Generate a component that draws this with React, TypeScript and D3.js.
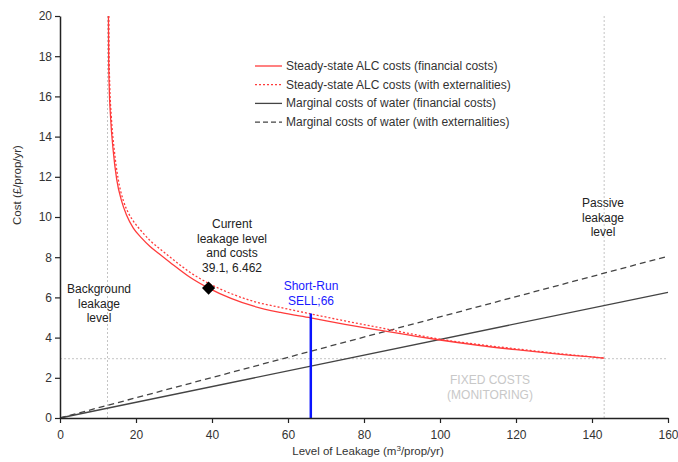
import React, { useEffect, useRef } from "react";
import * as d3 from "d3";

// leakage level (m3/prop/yr) vs steady-state ALC cost
const alcLeakage = [12.75, 12.8, 12.95, 13.3, 14.0, 14.9, 16.2, 17.5, 19.3, 21.5, 23.7, 26, 28.9, 34.2, 39.1, 45, 51, 58, 66, 75, 84, 92, 100, 110, 120, 130, 143.2];
const alcFinancial = [20, 18, 16.5, 15, 13.3, 11.9, 10.8, 10.1, 9.45, 8.95, 8.53, 8.18, 7.75, 7.0, 6.462, 5.95, 5.56, 5.25, 4.98, 4.66, 4.37, 4.12, 3.88, 3.62, 3.4, 3.2, 2.98];
const alcExtLeakage = [12.85, 12.92, 13.1, 13.5, 14.3, 15.3, 16.7, 18.0, 19.3, 21.5, 23.7, 26, 28.9, 34.2, 39.1, 45, 51, 58, 66, 75, 84, 92, 100, 110, 120, 130, 143.2];
const alcExternal = [20, 18, 16.5, 15, 13.3, 11.9, 10.8, 10.2, 9.8, 9.28, 8.83, 8.46, 8.02, 7.25, 6.7, 6.19, 5.8, 5.5, 5.18, 4.83, 4.5, 4.2, 3.92, 3.66, 3.44, 3.23, 2.98];

// marginal cost of water lines
const mcLeakage = [0, 160];
const mcFinancial = [0, 6.25];
const mcExternal = [0, 8.05];

const backgroundLeakage = 12.5;
const passiveLeakage = 143.2;
const fixedCosts = 2.95;
const currentPoint = { leakage: 39.1, cost: 6.462 };
const sell = { leakage: 66, cost: 5.2 };

const xTicks = [0, 20, 40, 60, 80, 100, 120, 140, 160];
const yTicks = [0, 2, 4, 6, 8, 10, 12, 14, 16, 18, 20];

const legendItems = [
  { label: "Steady-state ALC costs (financial costs)", color: "#ff3b3b", dash: null },
  { label: "Steady-state ALC costs (with externalities)", color: "#ff3b3b", dash: "2,2" },
  { label: "Marginal costs of water (financial costs)", color: "#444", dash: null },
  { label: "Marginal costs of water (with externalities)", color: "#444", dash: "5,3" },
];

const FONT = "'Liberation Sans', Arial, sans-serif";

export default function App() {
  const ref = useRef<SVGSVGElement>(null);

  useEffect(() => {
    const width = 678;
    const height = 462;
    const margin = { top: 16, right: 10, bottom: 44, left: 60 };
    const innerWidth = width - margin.left - margin.right;
    const innerHeight = height - margin.top - margin.bottom;

    const svg = d3.select(ref.current);
    svg.selectAll("*").remove();
    svg.attr("width", width).attr("height", height);

    const g = svg.append("g").attr("transform", `translate(${margin.left},${margin.top})`);

    const x = d3.scaleLinear().domain([0, 160]).range([0, innerWidth]);
    const y = d3.scaleLinear().domain([0, 20]).range([innerHeight, 0]);

    // reference lines
    const refLine = (x1: number, y1: number, x2: number, y2: number) =>
      g.append("line")
        .attr("x1", x1).attr("y1", y1).attr("x2", x2).attr("y2", y2)
        .attr("stroke", "#c4c4c4")
        .attr("stroke-width", 1)
        .attr("stroke-dasharray", "2,2");
    refLine(x(backgroundLeakage), y(0), x(backgroundLeakage), y(20));
    refLine(x(passiveLeakage), y(0), x(passiveLeakage), y(20));
    refLine(x(0), y(fixedCosts), x(160), y(fixedCosts));

    const line = d3.line<[number, number]>()
      .x((d) => x(d[0]))
      .y((d) => y(d[1]))
      .curve(d3.curveMonotoneX);

    const zip = (a: number[], b: number[]) => a.map((v, i) => [v, b[i]] as [number, number]);

    g.append("path")
      .datum(zip(mcLeakage, mcFinancial))
      .attr("d", line)
      .attr("fill", "none")
      .attr("stroke", "#444")
      .attr("stroke-width", 1.3);

    g.append("path")
      .datum(zip(mcLeakage, mcExternal))
      .attr("d", line)
      .attr("fill", "none")
      .attr("stroke", "#444")
      .attr("stroke-width", 1.3)
      .attr("stroke-dasharray", "6,4");

    g.append("path")
      .datum(zip(alcExtLeakage, alcExternal))
      .attr("d", line)
      .attr("fill", "none")
      .attr("stroke", "#ff3b3b")
      .attr("stroke-width", 1.3)
      .attr("stroke-dasharray", "2,2");

    g.append("path")
      .datum(zip(alcLeakage, alcFinancial))
      .attr("d", line)
      .attr("fill", "none")
      .attr("stroke", "#ff3b3b")
      .attr("stroke-width", 1.3);

    // short-run SELL
    g.append("line")
      .attr("x1", x(sell.leakage)).attr("x2", x(sell.leakage))
      .attr("y1", y(0)).attr("y2", y(sell.cost))
      .attr("stroke", "#0a14ff")
      .attr("stroke-width", 2.5);

    // current point diamond
    g.append("path")
      .attr("d", d3.symbol().type(d3.symbolDiamond2).size(110)())
      .attr("transform", `translate(${x(currentPoint.leakage)},${y(currentPoint.cost)})`)
      .attr("fill", "#000");

    // axes
    const xAxis = g.append("g")
      .attr("transform", `translate(0,${innerHeight})`)
      .call(d3.axisBottom(x).tickValues(xTicks).tickSize(5).tickSizeOuter(0));
    const yAxis = g.append("g")
      .call(d3.axisLeft(y).tickValues(yTicks).tickSize(5).tickSizeOuter(0));
    [xAxis, yAxis].forEach((a) => {
      a.select(".domain").attr("stroke", "#222").attr("stroke-width", 1.5);
      a.selectAll(".tick line").attr("stroke", "#222").attr("stroke-width", 1.2);
      a.selectAll("text")
        .style("font-family", FONT)
        .style("font-size", "12px")
        .attr("fill", "#333");
    });
    xAxis.selectAll("text").attr("dy", "1.1em");

    // axis titles
    svg.append("text")
      .attr("transform", `translate(18,185) rotate(-90)`)
      .attr("text-anchor", "middle")
      .attr("dominant-baseline", "middle")
      .style("font-family", FONT)
      .style("font-size", "11.5px")
      .attr("fill", "#333")
      .text("Cost (£/prop/yr)");

    const xt = svg.append("text")
      .attr("x", 368)
      .attr("y", 455)
      .attr("text-anchor", "middle")
      .style("font-family", FONT)
      .style("font-size", "11.5px")
      .attr("fill", "#333");
    xt.append("tspan").text("Level of Leakage (m");
    xt.append("tspan").attr("dy", -4).style("font-size", "8px").text("3");
    xt.append("tspan").attr("dy", 4).text("/prop/yr)");

    // annotations
    const multi = (lines: string[], cx: number, cy: number, color: string, size = 12) => {
      const t = svg.append("text")
        .attr("text-anchor", "middle")
        .style("font-family", FONT)
        .style("font-size", `${size}px`)
        .attr("fill", color);
      lines.forEach((l, i) => {
        t.append("tspan").attr("x", cx).attr("y", cy + i * 14.5).text(l);
      });
    };
    multi(["Current", "leakage level", "and costs", "39.1, 6.462"], 232, 228, "#222");
    multi(["Background", "leakage", "level"], 99, 293, "#222");
    multi(["Passive", "leakage", "level"], 603, 207, "#222");
    multi(["Short-Run", "SELL;66"], 311, 290, "#1a1aff");
    multi(["FIXED COSTS", "(MONITORING)"], 490, 384, "#c8c8c8");

    // legend
    const legend = svg.append("g").attr("transform", "translate(255,66)");
    legendItems.forEach((item, i) => {
      const row = legend.append("g").attr("transform", `translate(0,${i * 18.7})`);
      row.append("line")
        .attr("x1", 0).attr("x2", 27)
        .attr("stroke", item.color)
        .attr("stroke-width", 1.3)
        .attr("stroke-dasharray", item.dash);
      row.append("text")
        .attr("x", 31)
        .attr("y", 4)
        .style("font-family", FONT)
        .style("font-size", "12px")
        .attr("fill", "#333")
        .text(item.label);
    });
  }, []);

  return <svg ref={ref} style={{ position: "absolute", left: 0, top: 0 }} />;
}
